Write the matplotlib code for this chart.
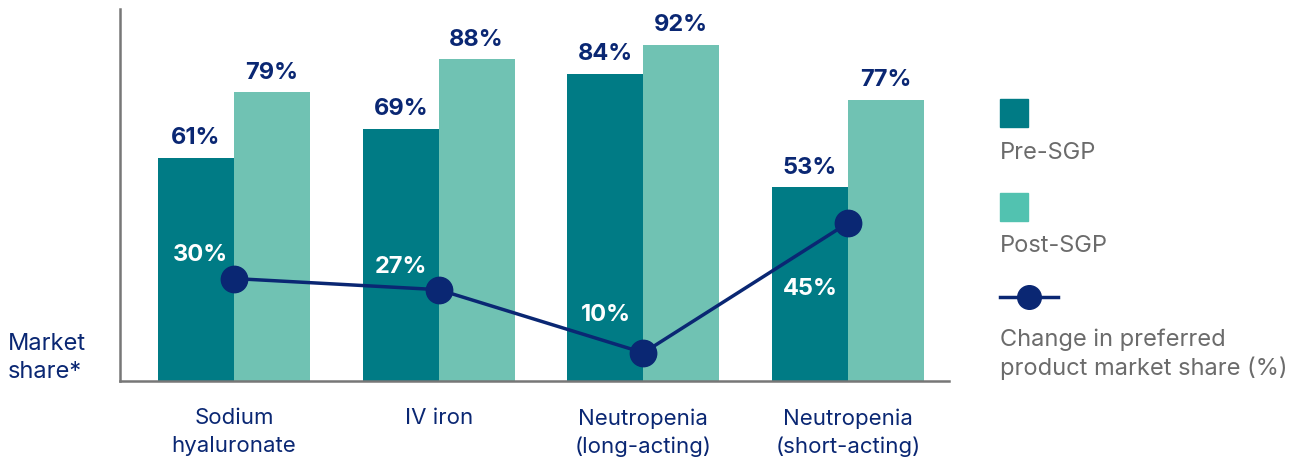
import numpy as np
import matplotlib.pyplot as plt
from matplotlib.patches import Rectangle
from matplotlib.lines import Line2D

plt.rcParams['font.family'] = ['Inter', 'DejaVu Sans']

categories = ['Sodium\nhyaluronate', 'IV iron', 'Neutropenia\n(long-acting)', 'Neutropenia\n(short-acting)']
pre_sgp = [61, 69, 84, 53]
post_sgp = [79, 88, 92, 77]
change = [30, 27, 10, 45]
change_offsets = [(-24, 18), (-27, 17), (-27, 28), (-27, -47)]

navy = '#0a2773'
dark_teal = '#007b85'
light_teal = '#70c2b3'
legend_teal = '#52c2b0'
grey = '#6b6b6b'

fig = plt.figure(figsize=(12.91, 4.6), dpi=100)
ax = fig.add_axes([120/1291, 1-382/460, (949-120)/1291, (382-10)/460])

x = np.arange(len(categories))
w = 0.371
ax.bar(x - w/2, pre_sgp, w, color=dark_teal)
ax.bar(x + w/2, post_sgp, w, color=light_teal)

for i in range(len(x)):
    ax.annotate(f'{pre_sgp[i]}%', (x[i] - w/2, pre_sgp[i]), xytext=(0, 7), textcoords='offset points',
                ha='center', va='bottom', fontsize=17, fontweight='bold', color=navy)
    ax.annotate(f'{post_sgp[i]}%', (x[i] + w/2, post_sgp[i]), xytext=(0, 7), textcoords='offset points',
                ha='center', va='bottom', fontsize=17, fontweight='bold', color=navy)

ax.set_xlim(-0.557, 3.493)
ax.set_ylim(0, 101.8)
ax.set_yticks([])
ax.set_xticks(x)
ax.set_xticklabels(categories, fontsize=16, color=navy, linespacing=1.45)
ax.tick_params(axis='x', length=0, pad=19)
for s in ['top', 'right']:
    ax.spines[s].set_visible(False)
for s in ['left', 'bottom']:
    ax.spines[s].set_color('#777777')
    ax.spines[s].set_linewidth(1.8)

ax2 = ax.twinx()
ax2.set_ylim(2.4, 102.6)
ax2.axis('off')
ax2.plot(x, change, color=navy, lw=2.5, marker='o', markersize=19)
for i in range(len(x)):
    ax2.annotate(f'{change[i]}%', (x[i], change[i]), xytext=change_offsets[i], textcoords='offset points',
                 ha='center', va='center', fontsize=17, fontweight='bold', color='white')

fig.text(8/1291, 1-358/460, 'Market\nshare*', fontsize=17, color=navy, ha='left', va='center',
         linespacing=1.3)

# legend drawn by hand: handle above label
def fx(px):
    return px / 1291

def fy(py):
    return 1 - py / 460

fig.add_artist(Rectangle((fx(1000), fy(128)), 28/1291, 28/460, color=dark_teal, transform=fig.transFigure))
fig.text(fx(1000), fy(153), 'Pre-SGP', fontsize=17, color=grey, va='center')
fig.add_artist(Rectangle((fx(1000), fy(222)), 28/1291, 28/460, color=legend_teal, transform=fig.transFigure))
fig.text(fx(1000), fy(246), 'Post-SGP', fontsize=17, color=grey, va='center')
fig.add_artist(Line2D([fx(1000), fx(1058)], [fy(298), fy(298)], color=navy, lw=2.5,
                      transform=fig.transFigure))
fig.add_artist(Line2D([fx(1029)], [fy(298)], color=navy, marker='o', markersize=17,
                      transform=fig.transFigure))
fig.text(fx(1000), fy(354), 'Change in preferred\nproduct market share (%)', fontsize=17, color=grey,
         va='center', linespacing=1.3)

fig.savefig('out.png', dpi=100)
